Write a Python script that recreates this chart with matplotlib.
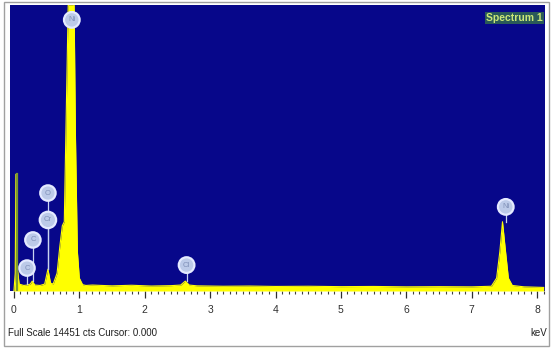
import matplotlib
matplotlib.use("Agg")
import matplotlib.pyplot as plt
from matplotlib.patches import Rectangle
from matplotlib.ticker import MultipleLocator

plt.rcParams["font.family"] = ["Liberation Sans", "DejaVu Sans"]

# ---- data ----
energy_kev = [0.00, 0.02, 0.03, 0.05, 0.08, 0.15, 0.20, 0.25, 0.28, 0.32, 0.40, 0.47,
              0.52, 0.56, 0.60, 0.66, 0.70, 0.74, 0.77, 0.80, 0.83, 0.86, 0.89, 0.92,
              0.94, 0.97, 1.00, 1.05, 1.10, 1.20, 1.50, 1.80, 2.10, 2.40, 2.55, 2.62,
              2.68, 2.80, 3.20, 3.60, 4.00, 4.50, 5.00, 5.50, 6.00, 6.50, 7.00, 7.30,
              7.38, 7.43, 7.47, 7.51, 7.56, 7.62, 7.80, 8.10]
counts = [0, 900, 5900, 1200, 350, 280, 300, 350, 500, 300, 280, 350,
          1100, 400, 350, 900, 2200, 3300, 3500, 9000, 14451, 14451, 14451, 14451,
          8000, 2000, 650, 320, 280, 300, 260, 290, 250, 270, 300, 500,
          300, 260, 240, 250, 230, 240, 220, 230, 210, 220, 210, 240,
          650, 2000, 3500, 2200, 650, 280, 210, 180]

noise_spike_energy = [0.045, 0.045]
noise_spike_counts = [0, 5900]

label_names = ["Ni", "Ni", "Cl", "C", "C", "Cr", "O"]
label_energy = [0.885, 7.52, 2.64, 0.20, 0.29, 0.52, 0.52]
label_y = [13700, 4250, 1310, 1160, 2580, 3590, 4950]
label_peak = [14451, 3500, 500, 350, 500, 1100, 1100]

x_ticks = [0, 1, 2, 3, 4, 5, 6, 7, 8]
full_scale = 14451

# ---- figure ----
W, H = 551, 350
fig = plt.figure(figsize=(W / 100, H / 100), dpi=100)
fig.patch.set_facecolor("white")

ax = fig.add_axes([10 / W, 1 - 291 / H, 535 / W, 286 / H])
ax.set_facecolor("#07078a")
ax.set_xlim(-0.06, 8.12)
ax.set_ylim(0, full_scale)

ax.fill_between(energy_kev, counts, 0, color="#ffff00", lw=0, zorder=2)
ax.plot(energy_kev, counts, color="#ffff00", lw=0.8, zorder=2)
ax.plot(noise_spike_energy, noise_spike_counts, color="#7c9a30", lw=1.6, zorder=3)

# element labels in circles with stems
for name, ex, ey, ep in zip(label_names, label_energy, label_y, label_peak):
    ax.plot([ex, ex], [min(ep, ey), ey], color="#c8d4f0", lw=0.9, zorder=4)
    ax.text(ex, ey, name, fontsize=5.5, color="#8090b8", ha="center", va="center",
            zorder=5,
            bbox=dict(boxstyle="circle,pad=0.55", facecolor="#bccae8",
                      edgecolor="#e4eaff", lw=1.6))

ax.text(0.996, 0.972, "Spectrum 1", transform=ax.transAxes, ha="right", va="top",
        fontsize=7.5, color="#cce878", fontweight="bold", zorder=5,
        bbox=dict(boxstyle="square,pad=0.12", facecolor="#2a5a58", edgecolor="none"))

for s in ax.spines.values():
    s.set_visible(False)
ax.set_yticks([])
ax.set_xticks(x_ticks)
ax.set_xticklabels([str(t) for t in x_ticks], fontsize=7.5, color="#303030")
ax.xaxis.set_minor_locator(MultipleLocator(0.1))
ax.tick_params(axis="x", which="major", length=5, width=0.9, color="#303030", pad=5,
               direction="out")
ax.tick_params(axis="x", which="minor", length=2.5, width=0.8, color="#404040",
               direction="out")

fig.text(8 / W, 1 - 333 / H, "Full Scale 14451 cts Cursor: 0.000", fontsize=7,
         color="#202020", va="center", ha="left")
fig.text(547 / W, 1 - 333 / H, "keV", fontsize=7, color="#202020",
         va="center", ha="right")

fig.add_artist(Rectangle((4 / W, 1 - 346 / H), 545 / W, 344 / H,
                         transform=fig.transFigure, fill=False,
                         edgecolor="#a0a0a0", lw=1.0))

fig.savefig("out.png", dpi=100)
